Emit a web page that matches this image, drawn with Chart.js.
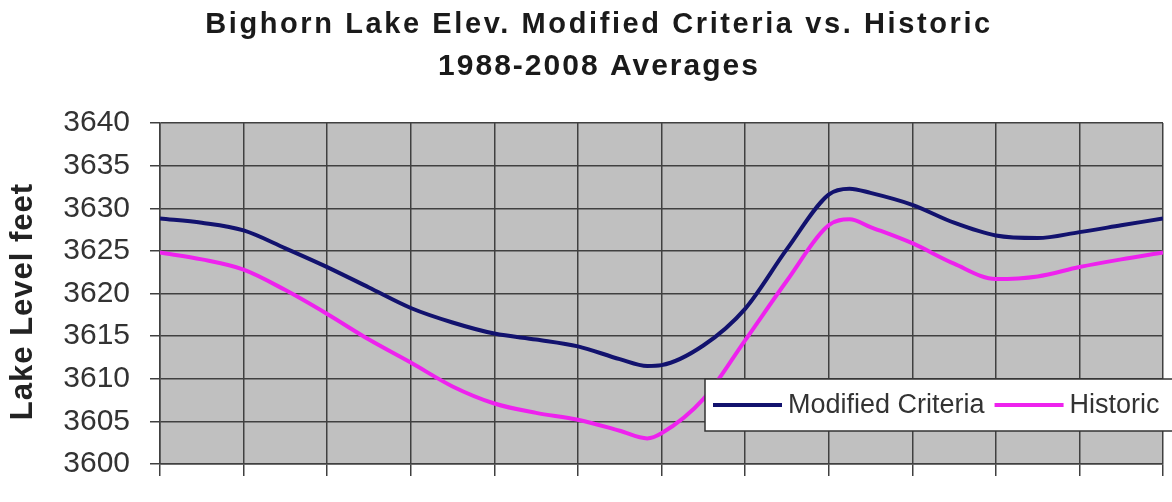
<!DOCTYPE html>
<html>
<head>
<meta charset="utf-8">
<script src="https://cdn.jsdelivr.net/npm/chart.js@4.4.1/dist/chart.umd.min.js"></script>
<style>
  html, body { margin: 0; padding: 0; background: #ffffff; }
  #wrap { width: 1172px; height: 502px; }
</style>
</head>
<body>
<div id="wrap"><canvas id="c" width="1172" height="502"></canvas></div>
<script>
// ---- data ----
const titleLines = ['Bighorn Lake Elev. Modified Criteria vs. Historic', '1988-2008 Averages'];
const yAxisTitle = 'Lake Level feet';
const seriesNames = ['Modified Criteria', 'Historic'];
// position along the year, in months from the start (0 .. 12)
const monthPos = [0, 0.5, 1, 1.5, 2, 2.5, 3, 3.5, 4, 4.5, 5, 5.5, 5.83, 6, 6.5, 7, 7.5, 8, 8.25, 8.5, 9, 9.5, 10, 10.5, 11, 11.5, 12];
const modifiedCriteria = [3628.8, 3628.3, 3627.4, 3625.3, 3623.1, 3620.7, 3618.3, 3616.6, 3615.3, 3614.6, 3613.8, 3612.3, 3611.5, 3611.6, 3613.9, 3618.2, 3625.2, 3631.6, 3632.3, 3631.8, 3630.4, 3628.3, 3626.8, 3626.5, 3627.2, 3628.0, 3628.8];
const historic = [3624.8, 3624.0, 3622.8, 3620.4, 3617.6, 3614.6, 3611.9, 3609.1, 3607.1, 3606.0, 3605.2, 3603.9, 3603.0, 3603.6, 3607.6, 3614.5, 3621.5, 3628.0, 3628.7, 3627.8, 3625.9, 3623.5, 3621.7, 3622.0, 3623.1, 3624.0, 3624.8];
const yTicks = [3600, 3605, 3610, 3615, 3620, 3625, 3630, 3635, 3640];

const toPoints = (vals) => vals.map((v, i) => ({ x: monthPos[i], y: v }));

const colors = ['#12126e', '#ee22ee'];
const gridColor = '#404040';
const FONT = "'Liberation Sans', Arial, sans-serif";

const decorPlugin = {
  id: 'decor',
  beforeDraw(chart) {
    const { ctx, chartArea: a } = chart;
    ctx.save();
    ctx.fillStyle = '#c0c0c0';
    ctx.fillRect(a.left, a.top, a.right - a.left, a.bottom - a.top);
    ctx.restore();
  },
  afterDraw(chart) {
    const { ctx, chartArea: a } = chart;
    ctx.save();
    // title
    ctx.fillStyle = '#1a1a1a';
    ctx.textAlign = 'center';
    ctx.textBaseline = 'alphabetic';
    ctx.font = 'bold 29px ' + FONT;
    ctx.letterSpacing = '2.6px';
    ctx.fillText(titleLines[0], 599, 33);
    ctx.font = 'bold 30px ' + FONT;
    ctx.letterSpacing = '2px';
    ctx.fillText(titleLines[1], 599, 75);
    // y axis title
    ctx.save();
    ctx.translate(23, (a.top + a.bottom) / 2 + 8);
    ctx.rotate(-Math.PI / 2);
    ctx.font = 'bold 31px ' + FONT;
    ctx.letterSpacing = '1px';
    ctx.textBaseline = 'middle';
    ctx.fillStyle = '#222';
    ctx.fillText(yAxisTitle, 0, 0);
    ctx.restore();
    // legend box
    ctx.letterSpacing = '0px';
    const lx = 705, ly = 379, lh = 52;
    ctx.fillStyle = '#ffffff';
    ctx.fillRect(lx, ly, 1172 - lx + 10, lh);
    ctx.strokeStyle = '#333';
    ctx.lineWidth = 1.5;
    ctx.strokeRect(lx, ly, 1172 - lx + 10, lh);
    ctx.font = '27px ' + FONT;
    ctx.textAlign = 'left';
    ctx.textBaseline = 'middle';
    const cy = ly + lh / 2;
    let x = lx + 8;
    chart.data.datasets.forEach((ds) => {
      ctx.strokeStyle = ds.borderColor;
      ctx.lineWidth = 4;
      ctx.beginPath();
      ctx.moveTo(x, cy);
      ctx.lineTo(x + 69, cy);
      ctx.stroke();
      x += 75;
      ctx.fillStyle = '#333';
      ctx.fillText(ds.label, x, cy + 1);
      x += ctx.measureText(ds.label).width + 10;
    });
    ctx.restore();
  }
};

new Chart(document.getElementById('c'), {
  type: 'line',
  data: {
    datasets: [
      { label: seriesNames[0], data: toPoints(modifiedCriteria), borderColor: colors[0], backgroundColor: colors[0], borderWidth: 4, pointRadius: 0, cubicInterpolationMode: 'monotone', fill: false },
      { label: seriesNames[1], data: toPoints(historic), borderColor: colors[1], backgroundColor: colors[1], borderWidth: 4, pointRadius: 0, cubicInterpolationMode: 'monotone', fill: false }
    ]
  },
  options: {
    responsive: false,
    animation: false,
    layout: { padding: { top: 123, right: 9, bottom: 0, left: 0 } },
    plugins: { legend: { display: false }, title: { display: false }, tooltip: { enabled: false } },
    scales: {
      x: {
        type: 'linear', min: 0, max: 12,
        ticks: { stepSize: 1, display: false },
        grid: { color: gridColor, lineWidth: 1.5, tickLength: 12 },
        border: { color: gridColor, width: 1.5 },
        afterFit(s) { s.height = 18; }
      },
      y: {
        min: 3600, max: 3640,
        afterBuildTicks(s) { s.ticks = yTicks.map(v => ({ value: v })); },
        ticks: { font: { family: FONT, size: 30 }, color: '#333', padding: 20, callback: (v) => String(v) },
        grid: { color: gridColor, lineWidth: 1.5, tickLength: 10 },
        border: { color: gridColor, width: 1.5 },
        afterFit(s) { s.width = 160; }
      }
    }
  },
  plugins: [decorPlugin]
});
</script>
</body>
</html>
